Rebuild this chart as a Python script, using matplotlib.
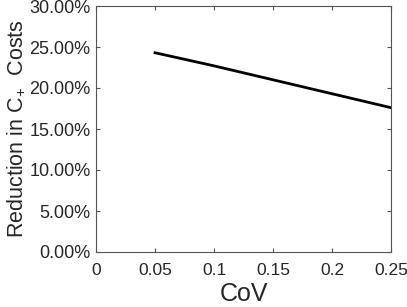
import matplotlib
matplotlib.use("Agg")
import matplotlib.pyplot as plt
from matplotlib.ticker import PercentFormatter

plt.rcParams['font.family'] = ['Liberation Sans', 'DejaVu Sans']
plt.rcParams['mathtext.fontset'] = 'custom'
plt.rcParams['mathtext.rm'] = 'Liberation Sans'

cov = [0.05, 0.10, 0.15, 0.20, 0.25]
reduction = [24.3, 22.7, 21.0, 19.3, 17.6]

fig = plt.figure(figsize=(4.07, 3.07), dpi=100)
ax = fig.add_axes([96/407, 1-252/307, 295/407, 246/307])
ax.plot(cov, reduction, color='black', lw=2)

ax.set_xlim(0, 0.25)
ax.set_ylim(0, 30)
ax.set_xticks([0, 0.05, 0.1, 0.15, 0.2, 0.25])
ax.set_xticklabels(['0', '0.05', '0.1', '0.15', '0.2', '0.25'])
ax.set_yticks(range(0, 31, 5))
ax.yaxis.set_major_formatter(PercentFormatter(decimals=2))
ax.tick_params(direction='in', top=True, right=True, length=3, color='#555555',
               labelcolor='#262626')
ax.tick_params(axis='x', pad=8, labelsize=12.5)
ax.tick_params(axis='y', pad=4, labelsize=13)
for s in ax.spines.values():
    s.set_color('#555555')
    s.set_linewidth(0.8)

ax.set_xlabel('CoV', fontsize=18, color='#262626', labelpad=3)
ax.set_ylabel('Reduction in C$_{+}$  Costs', fontsize=15.5, color='#262626', labelpad=1)

fig.savefig('out.png', dpi=100)
